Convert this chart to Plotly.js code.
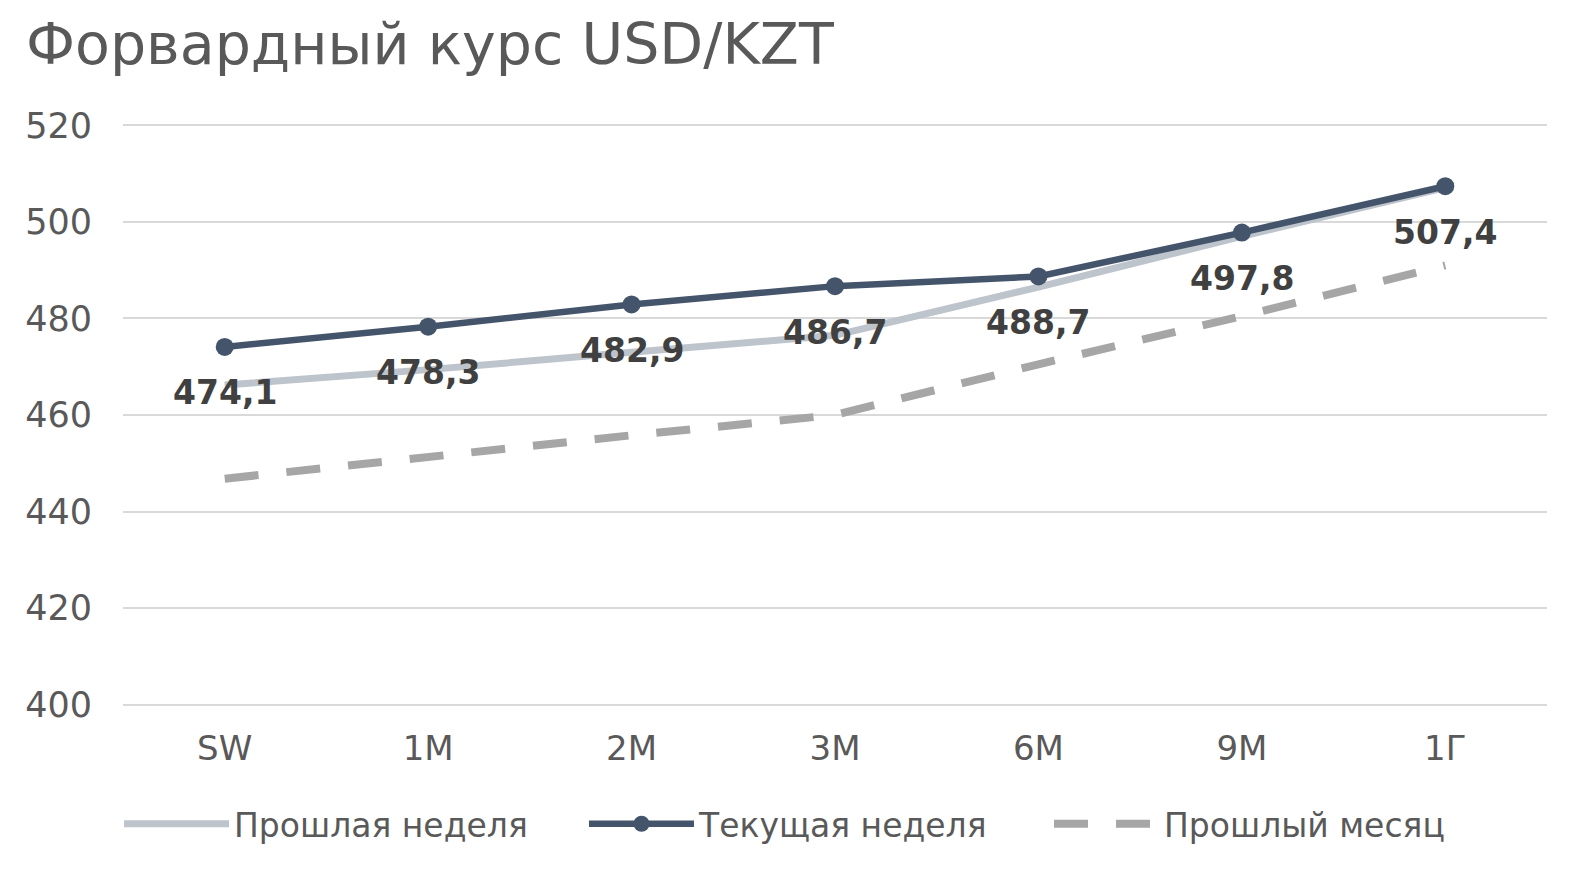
<!DOCTYPE html>
<html>
<head>
<meta charset="utf-8">
<script src="https://cdn.plot.ly/plotly-3.0.1.min.js"></script>
<style>
  html, body { margin: 0; padding: 0; background: #fff; }
  #chart { width: 1587px; height: 870px; }
</style>
</head>
<body>
<div id="chart"></div>
<script>
// forward USD/KZT curve, three snapshots
const tenors = ['SW', '1M', '2M', '3M', '6M', '9M', '1Г'];
const lastWeek = [466.2, 469.4, 473.0, 476.5, 486.5, 497.0, 507.1];
const thisWeek = [474.1, 478.3, 482.9, 486.7, 488.7, 497.8, 507.4];
const lastMonth = [446.8, 451.4, 455.8, 460.0, 470.5, 480.5, 491.0];
const seriesNames = ['Прошлая неделя', 'Текущая неделя', 'Прошлый месяц'];

const FONT = 'DejaVu Sans, Open Sans, sans-serif';
const GREY_TXT = '#595959';

const traces = [
  {
    x: tenors, y: lastWeek, name: seriesNames[0],
    type: 'scatter', mode: 'lines',
    line: { color: '#BEC4CC', width: 7 }
  },
  {
    x: tenors, y: thisWeek, name: seriesNames[1],
    type: 'scatter', mode: 'lines+markers',
    line: { color: '#44546A', width: 6.5 },
    marker: { color: '#44546A', size: 18 }
  },
  {
    x: tenors, y: lastMonth, name: seriesNames[2],
    type: 'scatter', mode: 'lines',
    line: { color: '#A6A6A6', width: 8, dash: '34px,28px' }
  }
];
// draw order: dashed at back, light line, then the dark one on top
const ordered = [traces[2], traces[0], traces[1]];
ordered[0].legendrank = 3; ordered[1].legendrank = 1; ordered[2].legendrank = 2;

// value labels under the current-week points
const labels = tenors.map((t, i) => ({
  x: t, y: thisWeek[i], xref: 'x', yref: 'y',
  text: thisWeek[i].toFixed(1).replace('.', ','),
  showarrow: false, yshift: -46,
  font: { family: FONT, size: 33, color: '#404040', weight: 'bold' }
}));

const layout = {
  width: 1587, height: 870,
  paper_bgcolor: '#fff', plot_bgcolor: '#fff',
  margin: { l: 123, r: 40, t: 123, b: 163 },
  font: { family: FONT, color: GREY_TXT },
  title: {
    text: 'Форвардный курс USD/KZT',
    font: { family: FONT, size: 57, color: GREY_TXT },
    x: 26 / 1587, xanchor: 'left', xref: 'container',
    y: 1 - 44 / 870, yanchor: 'middle', yref: 'container'
  },
  xaxis: {
    type: 'category', range: [-0.5, 6.5],
    showgrid: false, zeroline: false, showline: false,
    ticks: '', ticklabelstandoff: 18,
    tickfont: { family: FONT, size: 34, color: GREY_TXT }
  },
  yaxis: {
    range: [399.5, 520.5], tick0: 400, dtick: 20,
    showgrid: true, gridcolor: '#D9D9D9', gridwidth: 2,
    zeroline: false, showline: false, ticks: '',
    ticklabelstandoff: 30,
    tickfont: { family: FONT, size: 35, color: GREY_TXT }
  },
  showlegend: true,
  legend: {
    orientation: 'h', x: 0.487, xanchor: 'center',
    y: -0.2, yanchor: 'middle',
    font: { family: FONT, size: 33, color: GREY_TXT },
    itemwidth: 105, entrywidth: 345, traceorder: 'normal'
  },
  annotations: labels
};

Plotly.newPlot('chart', ordered, layout, { displayModeBar: false, staticPlot: true });
</script>
</body>
</html>
